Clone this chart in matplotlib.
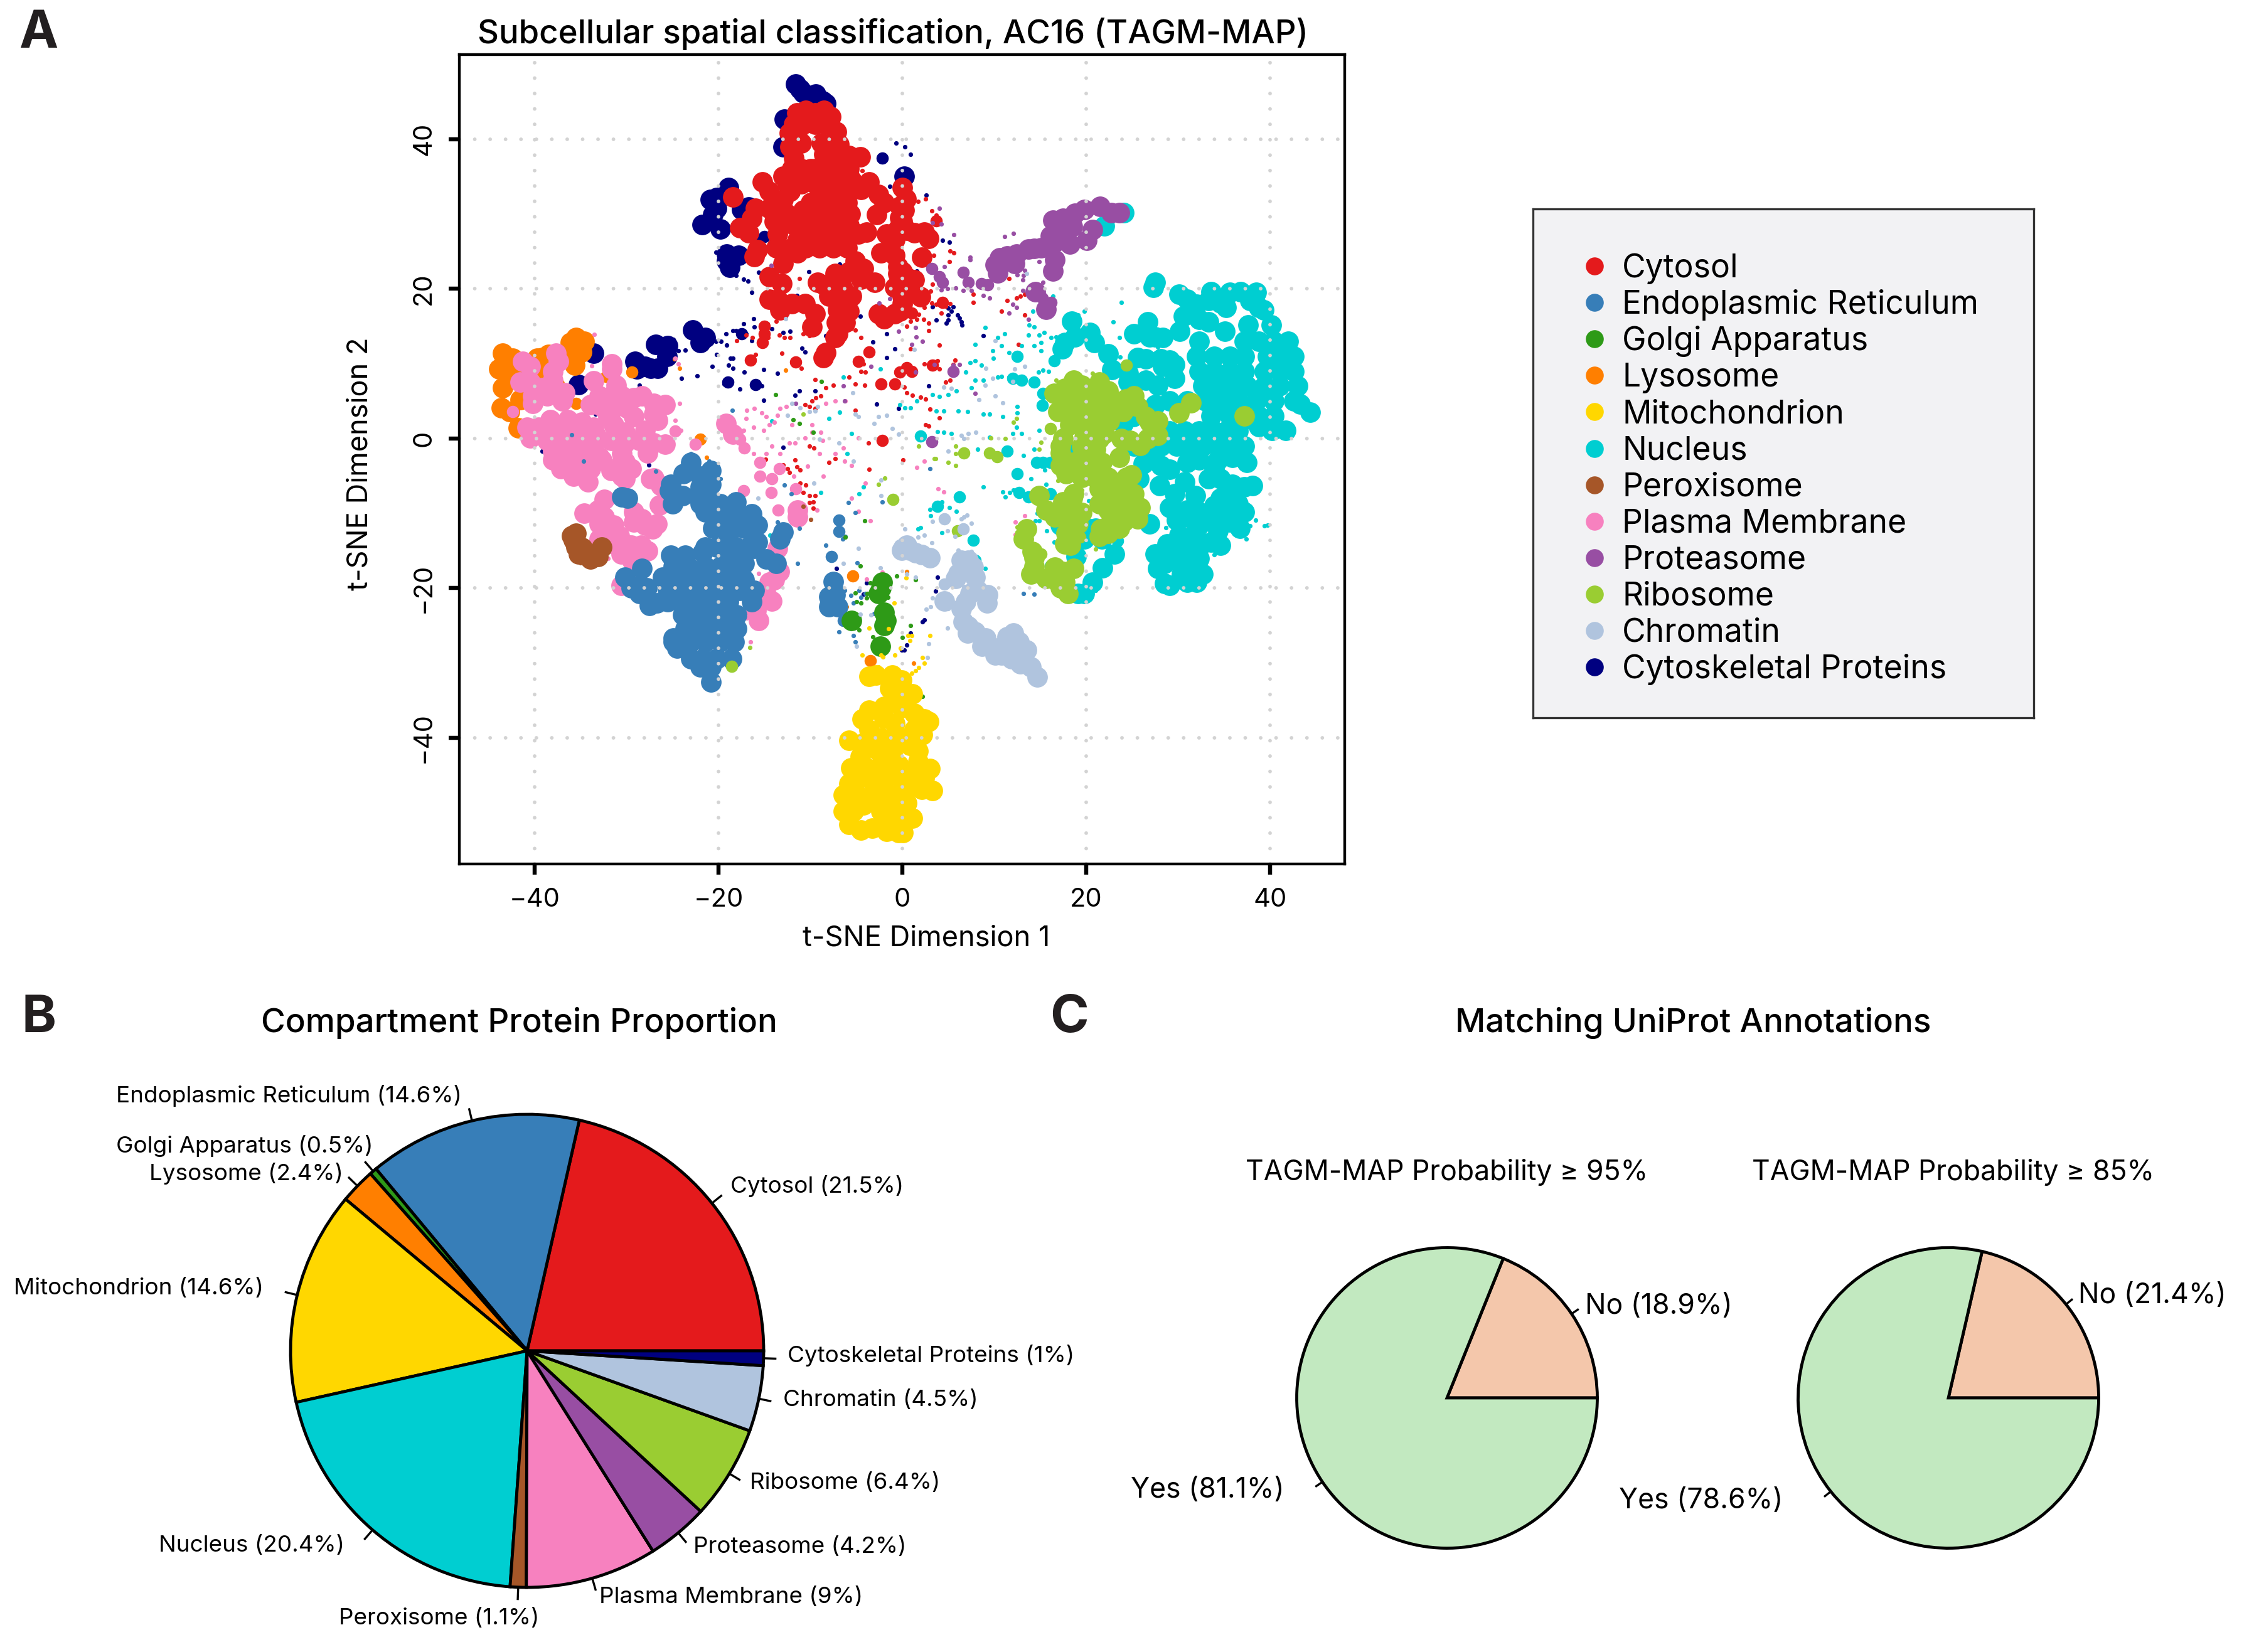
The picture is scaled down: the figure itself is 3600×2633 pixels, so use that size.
import numpy as np
import matplotlib
matplotlib.use("Agg")
import matplotlib.pyplot as plt

WIDTH, HEIGHT = 3600, 2633

plt.rcParams['font.family'] = ['Inter', 'DejaVu Sans']

# t-SNE points, (dim1, dim2), split by how confident the assignment looks
cytosol_high = [
    (-11.5,43.5),(-10.5,43.8),(-9.5,43.5),(-8.5,43.8),(-7.8,43),(-11.8,42),(-10.8,42),(-9.5,42),(-8.3,42),(-7.2,41),
    (-12.3,40.8),(-11.5,40.5),(-11,39.5),(-6.9,39.3),(-12.2,39),(-11.8,37.5),(-13,35),(-12,36),(-11,36),(-10,36),
    (-12.5,34),(-11,34),(-9.8,34.3),(-12.2,33),(-5.8,37.8),(-7,37.5),(-8.5,38),(-8.8,39.5),(-7.5,38.8),(-4.6,37.6),
    (-9.5,36),(-8.3,36),(-7,36),(-5.8,36),(-9,34.5),(-8,34.5),(-6.8,34.5),(-5.5,34.5),(-9,33),(-8,33),(-7,33),(-6,33),
    (-10,31.5),(-9,31.5),(-8,31.5),(-7,31.5),(-6,31.5),(-10.5,30),(-9.3,30),(-8,30),(-6.8,30),(-5.7,30),
    (-11,28.5),(-9.5,28.5),(-8.2,28.5),(-7,28.5),(-5.8,28.5),(-11,27),(-9.5,27),(-8,27),(-6.8,27),(-5.8,27),
    (-12,25.5),(-10.5,25.5),(-9,25.5),(-7.5,25.5),(-6,25.5),(-15.2,34.3),(-14.5,33),(-13,31.9),(-16,30.8),(-14.5,30.8),
    (-12.6,30.1),(-10.8,30.5),(-16.4,29.4),(-17.7,28.2),(-16.7,27.5),(-13.9,29),(-13.6,27.3),(-12,28.7),(-11.4,26.6),
    (-15.8,25.2),(-16.1,24.3),(-13.7,25.5),(-13,23.4),(-11.4,24.8),(-18.4,32.3),(-14.5,21.6),(-13.1,20.7),(-14.5,18.6),
    (-13.6,18.6),(-13.3,17.2),(-12,18),(-10.6,18),(-9.5,16.7),(-9.8,14.9),(-9.2,20.9),(-8.5,20.5),(-7.5,20),(-6.5,20),
    (-8,19),(-6.8,18.5),(-5.5,19),(-7,17.2),(-5.8,17),(-7.2,15.5),(-6.2,15.5),(-7,14),(-7.3,13.5),(-8.3,11.5),(-8.6,10.8),
    (-3.6,34.3),(-4.5,33.3),(-2.6,32.6),(-2,31.5),(-2.8,29.9),(-3.9,27.6),(-4.8,27.3),(-1.7,27.3),(-0.8,26.6),(-2.3,24.8),
    (-0.8,24.5),(-5.1,23.7),(-4.2,22.7),(-5.8,22.3),(-7.3,22),(-3,20.9),(-4.5,21.3),(-0.8,20.2),(-2.6,16.7),(-2,16),
    (-0.8,16.7),(0,33.5),(0.4,32),(0.2,30.5),(0,29),(-0.5,28),(0.5,27.8),(1.3,27.5),(2.4,27.6),(2.9,26.7),(0,22.3),
    (0.5,21.5),(0.2,20),(0.7,20.5),(0,19),(1.3,21.2),(2,18.9),(0,18),(-0.3,17),(-0.3,31),(-0.3,29.5),(-0.5,22),(-0.5,23),
    (2.1,24.2),
]
cytosol_mid = [
    (-16.5,10.5),(-11.6,10.2),(-15,15),(-15,14),(-4.8,10.3),(4.4,18.2),(1,16.8),(0.5,9.5),(1,9),(3.3,9.8),(3.7,29.1),
    (-0.3,8.9),(-2.2,-0.3),(-2.3,7.3),(-0.8,7.3),(-3.6,11.6),(-15.2,12.8),
]
cytosol_low = [
    (-11.4,32.6),(-4.4,35.8),(-0.8,31.7),(-11.2,21.4),(-8.9,21.7),(-5.1,18.4),(-14.7,15.3),(-13.7,15.7),(-14.6,13.5),
    (-13.4,13.8),(-12.8,13.5),(-12.2,13.5),(-10.8,14),(-10.1,13.7),(-5.6,14.7),(-5.1,14.5),(-4.5,13.5),(-17,13.8),
    (-16.3,13.5),(-18,13.1),(-16,11.2),(-13.1,11.4),(-11,9.4),(-4.2,10),(-4.5,9),(-4,8.9),(-5.8,8.2),(-5.1,7.3),(-4.1,7.1),
    (-8.3,6.8),(-7.5,7.1),(-9.5,7.9),(-10.6,4.5),(-9.8,5),(-10.1,4.3),(-9.4,5.4),(-8.9,5.7),(-9.5,4),(-5.1,3.8),(-3.7,-0.6),
    (-10.1,-1),(-9.6,-1.3),(-13.5,-3.6),(-13,-3.5),(-12.5,-4),(-12.3,-4.5),(-14.9,-2.8),(-11.7,-2.9),(-11.5,-3.8),(-11.1,-4.2),
    (-8,-3.2),(-7.3,-2.7),(-3.6,-4.1),(0.1,-2.9),(-11.1,-6),(-10.5,-6.2),(-10.8,-7.2),(-10.1,-7.6),(-9.5,-7.6),(-9.7,-8.5),
    (-10.1,-8.6),(-9.7,-9.3),(-15,-24.1),(-32.3,-16),(1.7,31.7),(2.5,32),(3.2,30.4),(3.7,29.8),(2.9,24.5),(3.4,24.5),
    (2.9,23.2),(5.2,25.1),(5.6,24.8),(5.1,23.6),(11.6,21.4),(3.3,20.6),(3.1,19.7),(7.7,19.3),(7.7,18.2),(5.2,18),(3.2,18.1),
    (3.7,17.9),(4.7,17.7),(2.4,17.5),(4.2,16.8),(0.5,18.2),(1.8,16.6),(0.9,15.7),(1.6,15.9),(2.3,15.9),(0.5,15),(2.9,15.4),
    (2.9,14.4),(10.8,17),(11.4,18.4),(12.4,18.8),(12.8,19),(13.3,19.3),(13.3,16.5),(0.9,12),(4,12.5),(12.6,12.6),(3.8,10.4),
    (4,9.3),(2.4,10),(5.7,10.5),(5.5,9.9),(5.2,7.8),(4.7,7.5),(0.2,6.9),(0.5,6.1),(1.1,5.8),(2,5.5),(2.5,5.3),(2.5,1.8),
    (2.9,1.7),(3,3.9),(4,2.8),
]

er_high = [
    (-23,-3.2),(-23.8,-4.7),(-22,-5),(-20.8,-4.3),(-22,-6.5),(-20.8,-6.1),(-25.2,-6.1),(-25.3,-7),(-25,-8.7),(-23.9,-7.6),
    (-22.3,-7.6),(-21.1,-8),(-22,-8.7),(-21.4,-9.8),(-19.8,-8.7),(-18.1,-8.5),(-20.2,-10.5),(-18.9,-10.1),(-17.7,-10.5),
    (-16.4,-10.1),(-15.8,-11.6),(-17.2,-12),(-19.2,-12),(-20.6,-12),(-18.9,-13.4),(-20.2,-14.5),(-21.4,-14.5),(-18.1,-14.5),
    (-18.9,-15.2),(-21.7,-15.2),(-16.1,-14.7),(-15.8,-13.8),(-16.7,-14.5),(-14.8,-16.1),(-13.7,-16.7),(-13,-12.5),(-13.3,-13.4),
    (-17.2,-16.7),(-25.2,-15.6),(-23.6,-15.6),(-24.9,-17.1),(-23.3,-17.1),(-21.4,-17.1),(-19.8,-17.1),(-18,-17.1),
    (-25.2,-18.9),(-23.6,-18.9),(-22,-18.9),(-20.5,-18.9),(-18.9,-18.9),(-17.2,-18.9),(-25.5,-20.3),(-23.9,-20.3),(-22.3,-20.3),
    (-20.8,-20.3),(-19.2,-20.3),(-17.7,-20.3),(-16.1,-20.3),(-25.5,-21.8),(-23.6,-21.8),(-22,-21.8),(-20.5,-21.8),(-18.9,-21.8),
    (-16.4,-21.8),(-23.9,-23.6),(-22.3,-23.6),(-20.8,-23.6),(-19.2,-23.6),(-18,-23.6),(-23.6,-25.4),(-22,-25.4),(-20.5,-25.4),
    (-18.9,-25.4),(-18,-25.4),(-24.9,-27.2),(-23,-27.2),(-21.4,-27.2),(-19.8,-27.2),(-18.3,-27.2),(-24.5,-28),(-23,-29.4),
    (-21.7,-29.4),(-20.2,-29.4),(-18.6,-29.4),(-22,-30.5),(-20.8,-30.5),(-20.8,-32.5),(-24.9,-26.7),(-26.1,-18.5),(-27.5,-22.3),
    (-26.7,-22),(-25.5,-21.6),(-28.3,-17.4),(-28.6,-19.6),(-29.5,-20),(-28.6,-20.7),(-27.8,-20),(-30.2,-18.5),(-30.5,-7.8),
    (-29.9,-8),(-7.5,-19.1),(-8,-21.1),(-7.3,-20.9),(-8,-22.5),(-7,-22.5),
]
er_mid = [(-6.9,-10.9),(-6.9,-12.4),(-7.7,-15.8),(-6.4,-24.3)]
er_low = [
    (-26.8,-4.4),(-21,-3),(-22.3,-9.7),(-19.8,-5.4),(-13.6,-11.2),(-11.2,-12),(-12.8,-6.2),(-12.1,-7.4),(-11.4,-16.7),(-5.9,-8.6),
    (-5.1,-9.9),(-8.3,-14.3),(-6.5,-13.4),(-6.2,-13.1),(-4.9,-16.6),(-6.3,-20.3),(-6.7,-19.9),(-5.6,-21),(-4,-20.7),(-4.5,-21.2),
    (-5.3,-22),(-4.7,-20.3),(-3.1,-23.4),(-6.9,-25.8),(-5.6,-25.4),(-5.3,-26.3),(-5,-24.9),(-5.1,-27.2),(-2.2,-8.5),(-4.7,-24.5),
    (-22.6,-2.5),(-23,-2),(-36,0.5),(-18.5,3.8),(-34.7,-3),(3,-4),(13.2,-20.7),(15.6,-17.8),(14.3,-20.8),
]

golgi_high = [(-2.2,-19.2),(-2.3,-20),(-2.6,-20.7),(-2,-23.2),(-1.8,-24.3),(-2,-25),(-5.5,-24.3),(-2.4,-27.8)]
golgi_low = [
    (-4.1,-11),(-4.6,-17),(-3.5,-19.3),(-2,-18.3),(-0.6,-18.4),(-5.1,-20.6),(-3.8,-20.7),(-5,-21.8),(-4.5,-22),(-3.9,-21.3),
    (-1.6,-21.2),(-4.7,-25.6),(-3.2,-26.5),(-2.1,-25.8),(0,-26.6),(-6.2,-13.2),(-13.8,5.9),(-11.9,2.5),(-11.2,2),(-9.7,0.8),
    (-8.8,7.6),(0.9,-25),(1.4,-18.9),(2.2,-34.5),
]

lysosome_high = [
    (-43.3,10.3),(-43.9,9.3),(-43,9.3),(-43.5,11.4),(-42.4,10.7),(-42.8,8.2),(-43.5,6.8),(-41.1,8.7),(-39.2,10.8),(-38.5,11.2),
    (-39.7,10.7),(-36.1,12.8),(-35.5,13.5),(-34.6,13),(-35.8,11.7),(-34.9,11.6),(-35.6,9.8),(-43.6,4.1),(-42.7,3.6),(-41.6,5.2),
    (-41.8,1.4),(-39.2,8.4),
]
lysosome_mid = [(-37.4,7.3),(-32.2,8.3),(-29.4,8.9),(-33.3,8),(-35.5,4.7),(-22,-0.1),(-5.4,-18.4),(-3.5,-29.7)]
lysosome_low = [(-43.5,5.3),(-24.2,9.4),(-24.8,10.6),(-12.7,9.1),(-21.3,-2.5),(-6.1,-22.5),(-1.5,-19.9),(0.5,-17.8),(1.2,-30)]

mitochondrion_high = [
    (-2.9,-31.6),(-3.6,-31.8),(-1.1,-31.6),(-1.4,-33.4),(-0.1,-32.3),(1.1,-34.1),(0.1,-34.5),(-0.6,-34.5),(-0.1,-36),(-2,-35.8),
    (-3.6,-36.3),(-3.6,-38.9),(-2,-37.4),(-0.8,-38.1),(1.3,-36.7),(2.4,-37.5),(2.9,-37.8),(1.3,-38.9),(2.2,-39.6),(0.5,-40),
    (0.8,-41),(-5.8,-40.3),(-4.2,-40.7),(-2.3,-40),(-0.8,-40.3),(-2.6,-41.8),(-1.1,-42.1),(-4.6,-42.5),(-5.6,-44),(-3.9,-44),
    (-2.3,-43.6),(-0.4,-43.6),(-4.9,-45.5),(-3.3,-45.8),(-1.7,-45.4),(-0.2,-45.4),(-5.8,-46.1),(-6.4,-47.6),(-4.9,-47.6),
    (-3.3,-48),(-1.4,-47.6),(-0.1,-48),(-6.4,-49.8),(-5.3,-49.8),(-4.2,-49),(-2.3,-49.8),(-0.8,-49.8),(-5.8,-51.6),(-4.5,-52.3),
    (-3.3,-52.1),(-1.7,-52.5),(-0.4,-52.7),(-1.8,-50.7),(-0.1,-51.2),(1.7,-41.8),(1.7,-43.2),(3,-44.1),(2.4,-45.4),(3.3,-47),
    (2.1,-46.9),(1.4,-46.1),(0.5,-44.7),(0.5,-46.9),(0.5,-48.7),(1.1,-50.7),(0.5,-50.5),(0.1,-52.7),(-4.4,-37.5),(-3,-47),
]
mitochondrion_low = [
    (-2.6,-30.5),(-2.4,-30.8),(-4.4,-28.9),(-3.6,-25.3),(-1.5,-25.4),(-0.9,-22),(-0.8,-28.9),(-2.3,-28.9),(-2.1,-29.2),(-0.2,-28),
    (3,-26.3),(0.6,-26.3),(1,-26.3),(0.8,-27),(2.2,-29.3),(2.4,-30),(1.8,-30.6),(1.4,-31),(1,-31.4),(0.1,-31.6),(0.4,-18.6),
]

nucleus_high = [
    (27.5,20.9),(27.3,20.2),(30.1,19.3),(31,18.6),(32,17.9),(33.6,19.6),(33.3,18.4),(34.6,18.1),(35.6,19.5),(36.8,19.6),(38.5,19.5),
    (37.8,18.4),(38.8,17.5),(39.3,17.2),(35.2,17.5),(30.6,16.3),(32.3,15.9),(33.3,15.6),(30.2,14.3),(35.1,14.3),(37.6,15.2),(40.1,15.2),
    (32.3,13),(37.2,13),(38.8,13),(40.4,13),(42,13),(32,11),(33.9,11),(35.6,11),(37.2,11),(39.7,11),(41.4,11),(42.6,11),
    (32.3,9),(33.9,9),(35.6,9),(37.2,9),(39.4,9),(41,9),(42.6,9),(32.7,7),(34.3,7),(35.9,7),(37.5,7),(39.4,7),(41,7),(43,7),
    (31,5),(33,5),(34.6,5),(36.5,5),(38.5,5),(40.4,5),(42.6,5),(33.6,3),(35.6,3),(38.8,3),(40.4,3),(44.4,3.5),(43.3,4.6),(38.1,2.5),
    (38.8,1.6),(40.2,1.1),(41.7,1.1),(40,2.5),(35.2,4.5),(37.2,4.3),(29.1,1),(30.7,1),(32.3,1),(33.9,1),(35.2,1),(36.5,1),
    (26.9,-1),(28.1,-1),(29.8,-1),(31,-1),(32.7,-1),(34.3,-1),(35.9,-1),(37.2,-1),(34.3,-2.9),(35.9,-2.5),(31,-3.2),(32.3,-2.9),
    (37.5,-3.2),(26.9,-2.9),(28.1,-3.6),(29.1,-4.1),(30.7,-5.8),(33.9,-4),(34.6,-5.4),(35.9,-6.1),(33.3,-5.4),(37.2,-6.5),(38.1,-6.3),
    (35.9,-8),(36.5,-8.7),(34.6,-8),(37.2,-9.8),(35.2,-9.4),(35.6,-11.2),(33.9,-9),(33.6,-10.9),(32.3,-9.8),(32.3,-11.6),(34.3,-12.3),
    (36.7,-12),(31.9,-7.6),(29.1,-9.2),(30.1,-9.8),(29.8,-10.9),(31,-9.6),(28,-6.3),(29.6,-7.4),(30.7,-10.5),(31.9,-12.5),(30.1,-12.9),
    (33.6,-13.8),(32.3,-14.5),(34.6,-14.3),(28.8,-14.1),(27.5,-15.4),(28.5,-15.2),(29.8,-14.5),(30.7,-14.5),(28.5,-16.7),(27.8,-17.4),
    (29.8,-16),(30.7,-16.3),(32.3,-16),(30.4,-18.1),(32,-17.1),(32.7,-18.1),(31,-19.2),(32,-19.2),(29.1,-19.6),(28.5,-19.4),(26.9,-11.4),
    (18.4,15.7),(18.8,13.6),(17.7,12.8),(17.4,12),(20.4,14.2),(20.9,12.8),(22.4,11.3),(22.8,9.2),(24.6,8.7),(24.6,7.5),(26.7,15.6),
    (25.2,14),(26.9,13.6),(27.5,13.6),(28.3,13.5),(25.6,10.8),(26.5,10.6),(28.1,10.6),(29.1,10.5),(28.3,9.6),(29.6,9.9),(29.6,8),
    (26.5,7.8),(27.8,7.1),(27.5,4.5),(29.1,5),(22,28.4),(24.1,30.2),(25.1,2.9),
    (24,2),(25.2,-1),(27.6,1.1),(24.9,-5.2),
    (25.7,-5.4),(26.2,-3.4),(17.2,-11.6),(20.4,-12.1),(21,-12),(19.8,-13.4),(21.7,-13.4),(23.1,-15.4),(18.9,-15.8),(21.8,-17.3),(20.7,-19.2),
    (19.8,-20.7),(19.1,-20.7),(31.5,-0.1),(34,0.2),(36,-9.8),
]
nucleus_mid = [
    (20.4,26.4),(19.6,3.9),(12.5,-4.7),(23.4,-13.7),(2,0.3),(12,8),(13,7.8),(7.7,-13.6),(16.1,-17),(23.5,-2.5),(14.3,7.5),(15.3,6),(15.2,4.4),
    (12.5,11),(16.5,10.4),(18.5,-1.3),(11.4,-1.7),(14.6,-3.2),(15.3,-3.2),(16.1,-3.2),(12.7,-7.2),(13.7,-7.8),(16.1,-7.4),(3.8,-9.1),(6.2,-7.8),(7.9,-16.3),
]
nucleus_low = [
    (9,14.8),(7.9,12.6),(9.8,11.7),(9.9,10.7),(10.4,13.5),(11.1,14),(10.8,12.4),(11.6,11.5),(13.7,13.8),(14.9,13.8),(15.4,14.2),(16.2,13.5),
    (16.7,13.6),(15.1,12.8),(14.3,12.4),(15.1,11.7),(7.4,10.1),(6.9,8.9),(7.9,10.4),(8.6,9.8),(7.9,7.8),(8.8,7.8),(7.5,6.8),(13,12.4),(5.9,6.4),
    (5,5.9),(4,5.6),(3.3,5.9),(1.6,5),(0.9,4.1),(3.7,3.7),(4.5,3.7),(6.1,3.7),(7.1,3.6),(0.3,4.1),(8.8,3.3),(9.5,3.3),(10.9,2.9),(12.5,4.3),(12.5,3.4),
    (12.4,1.5),(12,0.7),(13,0.7),(13.2,-2.3),(9.5,0.2),(8.2,-1.4),(3.8,0.9),(4.5,0.8),(5.3,0.7),(15.9,9),(15.3,9.1),(14.8,8.9),(14.3,-1.4),(14.9,1.1),
    (23.8,18.2),(19.8,17),(19.1,16.5),(22.9,15.6),(23.6,13.5),(23.7,10.9),(27.8,12.2),(27.4,11.3),(16.4,19),(14.2,17),(13.8,15.2),(14.3,14.9),(10.4,8.2),
    (11.6,8.2),(10.8,8.3),(11.2,-7.8),(11.7,-7.2),(12.1,-6.9),(10.9,-7.1),(8.8,-6.5),(14,-5.4),(15.5,-4.2),(15.6,-6.1),(20.3,-8.3),(20.2,-10),(39.4,-11.7),
    (39.7,-11.6),(38.4,-10.9),(37.8,-11.7),(37.4,-13.4),(33.9,-15.5),(28.7,-11.9),(14.7,-10),(14.5,-11),(14.9,-11),(15.7,-12.3),(16.5,-13.8),(4.3,-8.5),
    (5.1,-9.2),(3.1,-10.3),(5.9,-9.7),(3,-9.5),(4.3,-12.6),(1.7,-12.1),(2,-11.9),(9,-17.4),(21,-20.3),(17,-20.6),(-14.4,-12.9),(-13.1,-18.7),(-4.2,-6.5),
    (-8.9,-7.2),(-4.7,-7.4),(-2.4,9.3),(-6.4,8.2),(-6.8,3.5),(-8,2.7),(-14.2,2.3),(-5.5,0.7),(-6,-2),(-0.3,4.5),
]

peroxisome_high = [
    (-35.5,-12.7),(-35.8,-13.6),(-35.5,-14.5),(-35.2,-15.4),(-33.9,-16.1),(-34.2,-15.8),(-33.1,-15.8),(-32.7,-14.5),(-36,-13),(-34.8,-14.6),
]
peroxisome_low = [(-35,-16.6),(-10,-10.8),(-10.8,-9.1)]

plasma_high = [
    (-41.3,10.3),(-40.5,9.6),(-37.7,11.4),(-37.4,10.3),(-38,9),(-38,7.8),(-41.6,7.5),(-40.5,7.5),(-39.2,6.8),(-40.2,5.7),(-38.6,5.7),(-40.2,4.7),
    (-36.7,6.1),(-37,5),(-33.6,7.7),(-31.6,10),(-31.6,9.3),(-31.1,7.1),(-33,5.7),(-31.7,5.7),(-30.5,5.7),(-29.2,5.4),(-28.3,5.7),(-33.9,4.5),(-32.7,4.3),
    (-31.1,4.3),(-29.9,4),(-27,4.7),(-25.8,4.5),(-27,3.3),(-26.6,2.4),(-29.2,2.9),(-32,2.9),(-38.3,2.5),(-36.4,2.5),(-34.9,2.2),(-33.6,1.5),(-40.8,1.5),
    (-39.6,1.5),(-38,1.1),(-36.4,1.1),(-34.9,0.8),(-33.3,0.4),(-40.5,0.1),(-38.6,-0.3),(-36.7,-0.3),(-35.2,-0.6),(-33.6,-1),(-38,-1.7),(-36.1,-1.7),(-34.2,-2),
    (-33,-2.4),(-37.4,-3.1),(-35.5,-3.1),(-33.6,-3.3),(-31.4,1.8),(-30.2,0.8),(-31.7,-0.3),(-30.2,-0.6),(-28.6,-0.3),(-27,-0.6),(-25.8,-0.8),(-28,1.1),(-30.5,-2),
    (-30.2,-3.1),(-27.7,-1.9),(-38,-2.9),(-37.1,-4),(-35.8,-5),(-34.2,-5.8),(-33.9,-4),(-32.7,-2.9),(-31.7,-4.3),(-30.5,-5),(-29.5,-4),(-30.5,-3.2),(-30.2,-5.4),
    (-34.9,-2.9),(-27.4,-5.4),(-26.3,-6.3),(-26.4,-8.9),(-34.6,-10),(-33.1,-9.6),(-32.4,-8.1),(-32.4,-10.5),(-33,-11.4),(-31.4,-11.6),(-32,-12.7),(-30.8,-13),
    (-31.4,-14.1),(-30.2,-14.1),(-33,-13.4),(-29.2,-9.8),(-29.2,-11.2),(-28.3,-10.7),(-28,-11.6),(-27.2,-12.1),(-26.7,-11.4),(-29.5,-14.3),(-28.4,-14.3),(-27.7,-15),
    (-29.4,-16.3),(-30.6,-15.4),(-30.6,-19.6),(-29.5,-18.9),(-29.1,-18.9),(-27,-5.3),(-15.9,-23),(-15.6,-24.3),(-14.2,-21.7),(-15.8,-20.5),(-14.8,-20.9),
    (-13.6,-14.7),(-13.4,-17.8),(-13.9,-18.9),(-14.5,-19.2),(-11.4,-9.6),(-11.4,-10.5),(-18.4,0.6),(-19.2,2),
]
plasma_mid = [
    (-24.7,1),(-13.4,-4),(-15.5,-3.2),(-15.5,-5),(-14.2,-5.4),(-11.6,-6.7),(-17.7,-0.1),(-17.2,-1.3),(-17.3,-7),(-13.5,-9.6),(-14.3,-7.2),(-22.5,-0.8),(-42.4,3.6),
]
plasma_low = [
    (-16.9,3.8),(-16.1,4),(-15.3,3.4),(-14.8,2.9),(-13.6,3.1),(-12.6,4.3),(-12,1.8),(-13.3,4),(-17,2.7),(-17.3,1.1),(-16.2,1.5),(-15.1,1.1),(-14.5,1.8),(-18.9,2.9),
    (-18.1,1.3),(-13.9,2.2),(-9.8,1.8),(-9.8,0.8),(-8.9,0.8),(-8.7,-0.3),(-10.6,0.1),(-11.7,-0.6),(-12.3,-0.6),(-8.3,4.7),(-7.3,5),(-6.2,5),(-13.3,-2),(-14.2,-1),
    (-14.8,-2),(-16.2,-2),(-9,-2),(-7.3,-2),(-6.4,-1.3),(-4.8,0.1),(-24.2,4.7),(-24.7,2.4),(-24.1,1.1),(-24.4,10),(-24.7,10.7),(-33.5,13.9),(-33.8,9.7),
    (-4,-6),(-5.5,-8),(-4.8,-9.7),(-3.5,-11),(-10.3,-3.7),(-11.8,-5),(-8.6,-5),(-5.5,-3.6),(-6.3,-3),(-12,-10.4),(-9.3,-9.6),(-15.6,-18),(-14,-18.3),(-32,-16),
    (-30.7,-18),(-16.5,-27.2),(-16.9,-24),(-2.2,-17.9),(-3.9,-18.8),(-2.8,-20),(1.6,-3.9),(2.4,-3),(3.9,-6.7),(4.5,-7.1),(12.3,-11.2),(12.3,-12.8),(13.3,-10.3),
]

proteasome_high = [
    (16.4,29.2),(17.5,29.4),(18.8,30.1),(19.8,30.6),(21.5,31),(22.7,30.2),(23.6,30.2),(20.7,27.9),(18.5,28.3),(17.2,27.6),(16.1,27.1),(18.2,26),(16.6,26.2),(15.1,25.5),
    (13.7,25.3),(14.3,25.4),(12.4,24.6),(11.4,24.4),(10.6,24.1),(10.1,23.2),(10.4,22.1),(12.2,23.4),(16.6,23.9),(16.4,22.4),(14.5,19.6),(15.6,17.3),(20.1,26.5),
]
proteasome_mid = [(4,21.6),(8.6,20.7),(9.3,20.5),(6.6,22.2),(3.2,22.7),(4.4,20.9),(5.5,9),(3.2,-0.4),(15.2,18.8),(16.2,18.2),(7.2,20.9)]
proteasome_low = [
    (4,30.8),(5.6,27.2),(3.3,28.8),(4.2,28.7),(11.1,27),(12.1,27.4),(7.4,24.2),(7.4,23.9),(4.6,23),(4.9,20),(4.2,19.9),(5.8,20.1),(6.6,19.8),(7.5,19.8),(8.8,19.1),(9.5,18.8),
    (9.8,21.3),(13.3,22.5),(12.5,21.9),(13.2,21.8),(13.1,21.2),(15.3,20.9),(13.1,19.8),(12,17.9),(12.4,17.5),(11.6,16.8),(13.7,15.9),(14.9,23.6),(15.9,23.7),(1.4,14.8),(1.5,13.6),
    (1,12.6),(2.2,13),(6.2,9.9),(5.5,9.8),(3.5,9.9),(1.4,8.9),(7.9,6),(-14.3,23.1),(-2.5,18.1),(-1.4,18.7),(-0.4,14.3),(-3.4,9.6),(-6.4,7),(-11.6,4.7),(-6.3,5),
]

ribosome_high = [
    (18.6,7.8),(17.7,6.7),(19.5,7.1),(20.7,6.4),(22.4,6.4),(21.4,7.5),(16.5,6),(18,5.3),(19.5,5),(21.1,5),(22.7,5.3),(25.2,5.7),(24.3,5.3),(16.9,3.6),(18.2,3.6),(19.8,3),(21.1,3.6),
    (22.7,3.6),(24,3.6),(25.6,4.3),(26.5,2.9),(26.9,2.2),(27.8,2.3),(18.2,1.8),(19.8,1.8),(21.4,1.8),(22.5,2.3),(17.5,0),(19.8,0.2),(21.4,0),(22,0.7),(17.2,-1),(17.2,-1.9),(19.5,-1),
    (21,-1.4),(19.5,-2.4),(20.7,-2.6),(23.8,0),(24.8,-0.3),(26.7,0),(27.8,0.4),(25.9,-0.9),(31.4,4.8),(30.1,3.4),(37.2,3),(17.2,-3.6),(18.5,-3.2),
    (20.1,-3.2),(21.7,-3.2),(23.6,-2.5),(19.5,-5.2),(17.8,-4.7),(20.7,-5),(22.4,-5.2),(24.4,-5.2),(24.9,-4.9),(21.4,-6.7),(18.6,-7.4),(14.9,-7.6),(17.5,-8.5),(18.5,-8),(17.2,-9.6),(18.5,-9.8),
    (19.5,-9.9),(18,-10.9),(19.1,-11.4),(15.6,-9.6),(16.6,-10.5),(21.4,-8.7),(22.7,-7.4),(23.8,-7),(25.2,-7.4),(25.9,-9.2),(24.6,-8.7),(23.3,-8.7),(22.4,-9.6),(24,-9.6),(25.6,-10.7),(22.7,-10.9),
    (24.1,-11.1),(23.6,-12),(21.6,-12.1),(21.4,-13.1),(22.4,-12.7),(17.8,-12.7),(17.7,-14.1),(18.3,-14.3),(13.5,-12.1),(13.2,-13.4),(14.1,-15.1),(14.3,-15.9),(14.3,-17.1),(14,-18.1),(15.6,-18.7),
    (16.6,-17.2),(17.5,-17.8),(18.6,-17.4),(16.6,-18.9),(17.7,-19.2),(17.2,-20),(18,-20.7),
]
ribosome_mid = [(16.1,1.3),(24.4,9.8),(19.3,-13.2),(15.1,-15.4),(6,-12.3),(-18.6,-30.4),(-1,-8.1),(6.7,-1.9),(10.3,-2.4),(9.5,-1.9)]
ribosome_low = [
    (16.7,7.8),(20.7,8.7),(19,8.3),(11.2,0),(12.4,2.7),(12.1,2.2),(5.8,-1),(5.8,-2),(15.1,-0.5),(14.9,-1.4),(1.8,-1),(3.5,-2.7),(9.6,0.1),(3.6,-2.7),(5,-3.2),(5.8,-3.6),(19.5,-6.9),(21,-14.8),
    (12.5,-11.8),(12.5,-12.5),(14.2,-14.2),(16.9,-5.6),(-10.8,3.3),(-1.9,-5.3),(-2.6,-6.1),(-16.6,-27.9),
]

chromatin_high = [
    (6.6,-24.5),(7.2,-25.1),(7.9,-25.8),(7.1,-26),(9.1,-26.7),(8.7,-27.8),(10.4,-28),(10.1,-28.9),(11.4,-26.5),(12.1,-26),(12.7,-27.2),(13.5,-28.3),(11.9,-29.4),(12.8,-30.1),(14,-30.5),
    (14.7,-31.9),(10.8,-28.9),(12.2,-27.8),(4.6,-21.7),(6.9,-21.8),(7.4,-20.7),(8.2,-20.3),(9.3,-20.9),(9.2,-22),(6.4,-22.7),(6.4,-16.3),(7.2,-16.3),(5.8,-18.7),(6.1,-18),(7.9,-18.5),(7.7,-17.2),
    (2.1,-15.5),(3,-15.9),(0.5,-14.3),(-0.1,-14.9),(0.8,-14.9),(1.4,-15.3),
]
chromatin_mid = [(4.6,-19.5),(4.6,-10.7),(6.6,-12.1),(-0.3,-14.3)]
chromatin_low = [
    (3.2,-13.9),(2.4,-12.9),(1.7,-13.2),(0.3,-12.1),(3.3,-11.1),(6.7,-10.5),(7.5,-11.3),(7,-10.2),(6.4,-10.7),(5.7,-13.1),(4.9,-12.3),(6.1,-14.9),(7.5,-15.1),(6.7,-19.8),(3.3,-21.3),(5,-22.7),(4.5,-22.5),
    (5.4,-22.5),(2.6,-22.8),(3.1,-22.5),(4.9,-25.3),(2.9,-27.4),(2.7,-29.3),(1.4,-18.5),(0.5,-18.1),(13.5,22),(13.3,9.6),(12.2,9.3),(9.8,8),(9,7.1),(8.3,5.2),(10.9,4.8),(10.1,5.7),(9.1,9.4),(6.4,0.4),
    (7.2,0.7),(8,0.8),(5,-1.7),(4.5,6.9),(5.3,6.7),(1.3,11.9),(10.1,13.1),(12,7.6),(6.7,0),(-12.7,16),(-12.5,3.1),(-9.5,3.7),(-12,4.7),(-11.1,4.1),(-10.1,3.6),(-9.2,4.3),(-5.4,6.1),(-5.1,3.3),(-4.8,2.9),
    (-2.6,2.9),(-1.7,3.1),(-3.1,2),(-1.1,1.3),(-0.4,0.6),(-9,-0.1),(-6.9,-0.6),(-5.3,-3),(-15.7,-8),(-9.6,-6),(-2.3,-5.5),(-2.3,-7.6),(-4.8,-14.7),(-6.4,-16.7),(-2.4,-17.3),(-4.6,-23.5),(-3.4,-23.6),(-5,-27.8),
]

cytoskeletal_high = [
    (-11.6,47.4),(-11.1,46.7),(-10.8,46.2),(-9.4,46),(-8.7,45.1),(-8.3,44.8),(-10,45),(-12.8,42.7),(-13,39),(-6.8,38.2),(-18.9,33.5),(-20.2,32.2),(-20.9,31.9),(-20.2,30.8),(-20.6,29.9),(-21.8,28.6),
    (-17.5,30.6),(-16.7,30.9),(-19.8,28),(-19.1,24.6),(-19.1,23.7),(-18.8,22.9),(-17.8,24.5),(-18.5,24.2),(-22.8,14.5),(-21.4,13.5),(-22,12.8),(-26.8,12.6),(-25.5,12.4),(-25.6,11),(-29.1,10.3),(-28.9,9.3),
    (-27.4,9.4),(-26.6,9.4),(-28,9.6),(-35.2,7.2),(-33.6,11.4),(0.2,35),
]
cytoskeletal_mid = [(-2.2,37.5),(-15.9,26.6),(-15,27),(-17.5,14),(-16,7.2),(-19,7.5)]
cytoskeletal_low = [
    (-0.7,39.5),(-1.4,33.7),(-19.2,14),(-18.4,14.4),(-18.1,14.4),(-20.3,13),(-19.7,13),(-19.1,12.5),(-17,14),(-16.2,16),(-16.1,14.9),(-17.3,15.3),(-23.6,11.8),(-24.4,11.7),(-24.9,13.2),(-16.4,13.1),
    (-10.9,12.1),(-10.6,11.6),(-3.2,12.9),(-1.7,10.8),(-4.6,16.3),(-6.1,18.7),(-11.5,19.1),(-12.7,17.7),(-12.7,16.3),(-13,14.2),(-12.2,14.3),(-14.2,14.7),(-8.3,13.7),(-1.7,14),(-0.8,12),(-20.2,11.2),(-18.7,10.7),
    (-18.4,10.7),(-18.9,9.8),(-18.4,9.4),(-20.7,9.6),(-22.3,8.4),(-24,8),(-15.1,9.2),(-13.6,8.7),(-17.2,8.9),(-18.6,7.7),(-19.1,7.3),(-19.4,7.3),(-15.9,7.4),(-15.3,7),(-17.7,6.6),(-28.6,7.1),(-28.5,6.4),(-28,5.9),
    (-33.4,3.3),(-11.2,6.4),(-9.5,6.4),(-15.1,5.1),(-11.7,5.8),(-2.8,4.6),(-0.4,4),(-39.2,-1.7),(-13,-1.2),(-28.3,1.3),(-20.3,24.9),(-16.4,19.5),(-15.8,23.4),(-15.6,22.2),(-13.3,22.7),(-10.2,22.3),(-6.8,23.3),(-18.6,22),
    (-18.1,21.8),(-17.3,21.3),(-16.8,21),(-17,29.7),(0.9,38),(0.3,39),(2.6,32.5),(4.4,26.5),(5.1,26.2),(1.6,22.4),(3.3,17.6),(5,17.4),(5.5,17.6),(5.3,17),(5,16.5),(6,16.5),(6.2,16.1),(6.4,15.6),(6.5,15.2),(5,15.8),(4.8,15.4),
    (3.7,15.8),(8.8,13.7),(2.9,7),(-23,-2.3),(-27.6,-3.5),(-7.2,-17.4),(-4.2,-20.8),(-3.9,-19.3),(-2.5,-27.8),(-0.1,-28.3),(3.8,-18.5),(3.6,-20.4),(2.2,-24.5),(2.4,-24.2),(0.9,-26),(0.5,-27.6),(0.2,-28.3),
]

# name, colour, high, mid, low
compartments = [
    ('Cytoskeletal Proteins', '#000080', cytoskeletal_high, cytoskeletal_mid, cytoskeletal_low),
    ('Cytosol', '#E41A1C', cytosol_high, cytosol_mid, cytosol_low),
    ('Nucleus', '#00CED1', nucleus_high, nucleus_mid, nucleus_low),
    ('Lysosome', '#FF7F00', lysosome_high, lysosome_mid, lysosome_low),
    ('Plasma Membrane', '#F781BF', plasma_high, plasma_mid, plasma_low),
    ('Endoplasmic Reticulum', '#377EB8', er_high, er_mid, er_low),
    ('Golgi Apparatus', '#2E9A17', golgi_high, [], golgi_low),
    ('Mitochondrion', '#FFD700', mitochondrion_high, [], mitochondrion_low),
    ('Peroxisome', '#A65628', peroxisome_high, [], peroxisome_low),
    ('Proteasome', '#984EA3', proteasome_high, proteasome_mid, proteasome_low),
    ('Ribosome', '#9ACD32', ribosome_high, ribosome_mid, ribosome_low),
    ('Chromatin', '#B0C4DE', chromatin_high, chromatin_mid, chromatin_low),
]

legend_names = ['Cytosol', 'Endoplasmic Reticulum', 'Golgi Apparatus', 'Lysosome', 'Mitochondrion', 'Nucleus',
                'Peroxisome', 'Plasma Membrane', 'Proteasome', 'Ribosome', 'Chromatin', 'Cytoskeletal Proteins']

pie_names = ['Cytosol', 'Endoplasmic Reticulum', 'Golgi Apparatus', 'Lysosome', 'Mitochondrion', 'Nucleus',
             'Peroxisome', 'Plasma Membrane', 'Proteasome', 'Ribosome', 'Chromatin', 'Cytoskeletal Proteins']
pie_values = [21.5, 14.6, 0.5, 2.4, 14.6, 20.4, 1.1, 9, 4.2, 6.4, 4.5, 1]
pie_label_xy = [(1164, 1887), (185, 1743), (185, 1823), (238, 1867), (22, 2049), (253, 2459),
                (540, 2575), (955, 2542), (1105, 2462), (1195, 2359), (1248, 2227), (1255, 2157)]

uniprot_95 = [18.9, 81.1]
uniprot_85 = [21.4, 78.6]
uniprot_names = ['No', 'Yes']
uniprot_colors = ['#F4C7AB', '#C2E9C0']


def px_axes(fig, left, top, right, bottom):
    return fig.add_axes([left / WIDTH, 1 - bottom / HEIGHT, (right - left) / WIDTH, (bottom - top) / HEIGHT])


def put_text(fig, x, y, s, size, ha='left', **kw):
    # va center sits a little high for this font
    fig.text(x / WIDTH, 1 - (y + 4) / HEIGHT, s, fontsize=size, ha=ha, va='center', **kw)


def draw_pie(fig, cx, cy, r, values, colors):
    # axes a bit bigger than the pie so the little label ticks fit
    pad = 1.08
    ax = px_axes(fig, cx - r * pad, cy - r * pad, cx + r * pad, cy + r * pad)
    ax.pie(values, colors=colors, startangle=0, counterclock=True, radius=1,
           wedgeprops={'edgecolor': 'black', 'linewidth': 1.15})
    ax.set_xlim(-pad, pad)
    ax.set_ylim(-pad, pad)
    ax.set_aspect('equal')
    ax.axis('off')
    fractions = np.array(values) / sum(values)
    mids = 2 * np.pi * (np.cumsum(fractions) - fractions / 2)
    for a in mids:
        ax.plot([np.cos(a), 1.05 * np.cos(a)], [np.sin(a), 1.05 * np.sin(a)], color='black', lw=0.8, clip_on=False)


def main():
    fig = plt.figure(figsize=(WIDTH / 300, HEIGHT / 300), dpi=300)

    # panel A
    ax = px_axes(fig, 732, 87, 2143, 1377)
    for name, color, high, mid, low in compartments:
        for points, size in ((high, 62), (mid, 22), (low, 3)):
            if points:
                xs, ys = np.array(points).T
                ax.scatter(xs, ys, s=size, color=color, linewidths=0, zorder=2)
    ax.set_xlim(-48.19, 48.12)
    ax.set_ylim(-56.85, 51.3)
    ax.set_xticks([-40, -20, 0, 20, 40])
    ax.set_yticks([-40, -20, 0, 20, 40])
    ax.grid(True, color='lightgray', linewidth=1.4, linestyle=(0, (0.01, 4.2)), zorder=3)
    for line in ax.get_xgridlines() + ax.get_ygridlines():
        line.set_dash_capstyle('round')
        line.set_zorder(3)
    ax.set_axisbelow(False)
    ax.tick_params(length=4.1, width=1.55, labelsize=10, pad=5)
    plt.setp(ax.get_yticklabels(), rotation=90, va='center')
    for spine in ax.spines.values():
        spine.set_linewidth(1.05)
        spine.set_zorder(5)

    put_text(fig, 1423, 50, 'Subcellular spatial classification, AC16 (TAGM-MAP)', 12.67, ha='center', fontweight='medium')
    put_text(fig, 1476, 1492, 't-SNE Dimension 1', 10.85, ha='center')
    fig.text(574 / WIDTH, 1 - 739 / HEIGHT, 't-SNE Dimension 2', fontsize=10.85, rotation=90, ha='center', va='center')

    for letter, x, y in (('A', 62, 50), ('B', 62, 1619), ('C', 1704, 1619)):
        put_text(fig, x, y, letter, 20, ha='center', fontweight='bold', color='#231F20')

    # legend box
    colors = {c[0]: c[1] for c in compartments}
    leg = px_axes(fig, 2443, 333, 3241, 1144)
    leg.set_xlim(0, 1)
    leg.set_ylim(12.39, -1.566)
    leg.set_facecolor('#F2F2F4')
    leg.set_xticks([])
    leg.set_yticks([])
    for spine in leg.spines.values():
        spine.set_linewidth(0.8)
        spine.set_color('#333333')
    for i, name in enumerate(legend_names):
        leg.scatter(0.1228, i, s=47, color=colors[name], linewidths=0)
        leg.text(0.178, i + 0.07, name, fontsize=12.4, va='center', ha='left')

    # panel B
    put_text(fig, 827, 1626, 'Compartment Protein Proportion', 12.7, ha='center', fontweight='medium')
    draw_pie(fig, 840, 2153, 377, pie_values, [colors[n] for n in pie_names])
    for name, value, (x, y) in zip(pie_names, pie_values, pie_label_xy):
        put_text(fig, x, y, f'{name} ({value}%)', 8.85)

    # panel C
    put_text(fig, 2698, 1626, 'Matching UniProt Annotations', 12.7, ha='center', fontweight='medium')
    put_text(fig, 2306, 1865, 'TAGM-MAP Probability ≥ 95%', 10.7, ha='center')
    put_text(fig, 3113, 1865, 'TAGM-MAP Probability ≥ 85%', 10.7, ha='center')
    draw_pie(fig, 2306, 2228, 239.5, uniprot_95, uniprot_colors)
    draw_pie(fig, 3105, 2228, 239.5, uniprot_85, uniprot_colors)
    put_text(fig, 2526, 2078, f'{uniprot_names[0]} ({uniprot_95[0]}%)', 10.7)
    put_text(fig, 1802, 2371, f'{uniprot_names[1]} ({uniprot_95[1]}%)', 10.7)
    put_text(fig, 3312, 2061, f'{uniprot_names[0]} ({uniprot_85[0]}%)', 10.7)
    put_text(fig, 2580, 2388, f'{uniprot_names[1]} ({uniprot_85[1]}%)', 10.7)

    fig.savefig('out.png', dpi=300, facecolor='white')


if __name__ == "__main__":
    main()
